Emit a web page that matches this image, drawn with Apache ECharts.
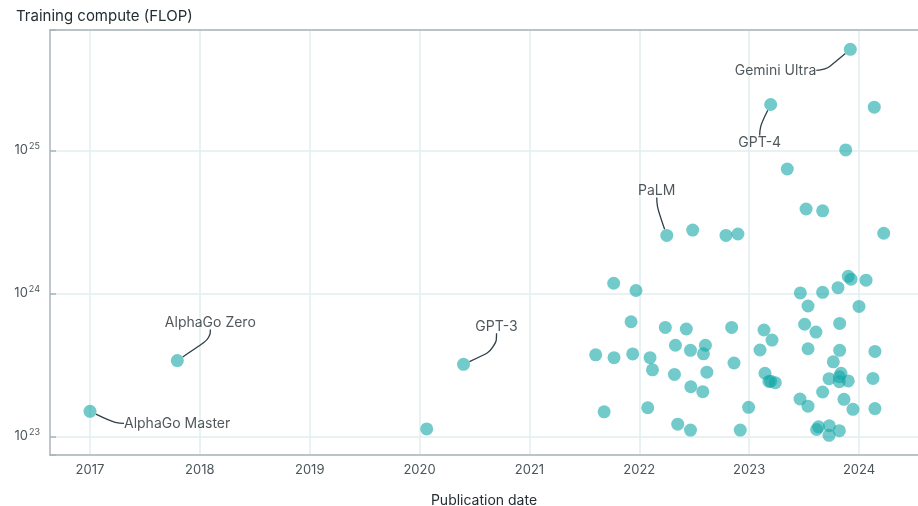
<!DOCTYPE html>
<html>
<head>
  <meta charset="UTF-8">
  <title>Training compute</title>
  <script src="https://cdn.jsdelivr.net/npm/echarts@6/dist/echarts.min.js"></script>
  <style>
    html, body { margin: 0; padding: 0; background: #fff; }
    #main { width: 918px; height: 506px; }
  </style>
</head>
<body>
<div id="main"></div>
<script>
  // named models (labelled on the chart)
  var notableNames = ['AlphaGo Master', 'AlphaGo Zero', 'GPT-3', 'PaLM', 'GPT-4', 'Gemini Ultra'];
  var notableDates = [2017.0, 2017.795, 2020.40, 2022.25, 2023.196, 2023.921];
  var notableCompute = [1.5e23, 3.4e23, 3.2e23, 2.55e24, 2.1e25, 5.1e25];

  // other models, publication date (decimal year) and training FLOP
  var otherDates = [
    2020.065, 2021.767, 2021.970, 2021.925, 2022.237, 2022.428, 2022.841, 2021.603, 2021.770, 2021.940,
    2022.098, 2022.120, 2022.329, 2022.466, 2022.602, 2022.584, 2022.320, 2022.615, 2022.469, 2022.578,
    2022.862, 2021.680, 2022.077, 2022.350, 2022.466, 2022.995, 2022.919, 2022.486, 2022.789, 2022.898,
    2023.347, 2023.518, 2023.669, 2023.879, 2024.139, 2024.225, 2023.902, 2023.927, 2024.064, 2023.466,
    2023.669, 2023.809, 2023.536, 2024.000, 2023.135, 2023.208, 2023.099, 2023.505, 2023.608, 2023.824,
    2023.536, 2023.824, 2024.145, 2023.766, 2023.144, 2023.180, 2023.196, 2023.238, 2023.727, 2023.821,
    2023.836, 2023.821, 2023.902, 2024.127, 2023.669, 2023.463, 2023.536, 2023.863, 2023.945, 2024.145,
    2023.614, 2023.632, 2023.730, 2023.727, 2023.821
  ];
  var otherCompute = [
    1.13e23, 1.18e24, 1.05e24, 6.35e23, 5.8e23, 5.65e23, 5.8e23, 3.73e23, 3.56e23, 3.78e23,
    3.56e23, 2.93e23, 4.35e23, 4.01e23, 4.35e23, 3.79e23, 2.72e23, 2.82e23, 2.23e23, 2.06e23,
    3.27e23, 1.49e23, 1.59e23, 1.22e23, 1.11e23, 1.6e23, 1.11e23, 2.78e24, 2.55e24, 2.61e24,
    7.43e24, 3.9e24, 3.79e24, 1.01e25, 2.01e25, 2.64e24, 1.32e24, 1.26e24, 1.24e24, 1.01e24,
    1.02e24, 1.1e24, 8.18e23, 8.13e23, 5.56e23, 4.73e23, 4.03e23, 6.1e23, 5.38e23, 6.18e23,
    4.11e23, 4.01e23, 3.94e23, 3.33e23, 2.77e23, 2.43e23, 2.44e23, 2.38e23, 2.54e23, 2.62e23,
    2.77e23, 2.42e23, 2.45e23, 2.55e23, 2.05e23, 1.83e23, 1.63e23, 1.82e23, 1.55e23, 1.57e23,
    1.12e23, 1.17e23, 1.19e23, 1.02e23, 1.1e23
  ];

  var yearTicks = [2017, 2018, 2019, 2020, 2021, 2022, 2023, 2024];

  // label placement relative to the dot centre: [dx, dy, align, leader length]
  var labelOffsets = [
    [30, 12, 'left', 9],
    [33, -38, 'center', 9],
    [33, -38, 'center', 16],
    [-10, -45, 'center', 9],
    [-11, 38, 'center', 9],
    [-30, 21, 'right', 9]
  ];

  var dotColor = 'rgba(20,166,166,0.75)';
  var textColor = '#232d32';
  var axisColor = '#aab4b8';
  var gridColor = '#e2eeee';

  var zip = function(xs, ys) {
    var res = [];
    for (var i = 0; i < xs.length; i++) res.push([xs[i], ys[i]]);
    return res;
  };

  var notableData = [];
  for (var i = 0; i < notableNames.length; i++) {
    notableData.push({
      name: notableNames[i],
      value: [notableDates[i], notableCompute[i]],
      labelLine: { length2: labelOffsets[i][3] }
    });
  }

  var option = {
    backgroundColor: '#fff',
    textStyle: { fontFamily: 'Inter' },
    title: {
      text: 'Training compute (FLOP)',
      left: 11,
      top: 4,
      textStyle: { fontFamily: 'Inter', fontSize: 15, fontWeight: 'normal', color: textColor }
    },
    grid: { left: 50, right: 0, top: 30, bottom: 51, outerBoundsMode: 'none', containLabel: false },
    xAxis: [{
      type: 'value',
      min: 2016.636,
      max: 2024.537,
      name: 'Publication date',
      nameLocation: 'middle',
      nameGap: 39,
      nameTextStyle: { fontFamily: 'Inter', fontSize: 14, color: textColor },
      axisLine: { show: true, lineStyle: { color: axisColor, width: 1.5 } },
      axisTick: { show: false, customValues: yearTicks },
      axisLabel: {
        customValues: yearTicks,
        margin: 9,
        fontSize: 13,
        color: '#4a5559',
        formatter: function(v) { return String(Math.round(v)); }
      },
      splitLine: { show: true, lineStyle: { color: gridColor, width: 1.5 } }
    }, {
      type: 'value',
      position: 'top',
      min: 2016.636,
      max: 2024.537,
      axisLine: { show: true, onZero: false, lineStyle: { color: axisColor, width: 1.5 } },
      axisTick: { show: false },
      axisLabel: { show: false },
      splitLine: { show: false }
    }],
    yAxis: {
      type: 'log',
      logBase: 10,
      min: Math.pow(10, 22.871),
      max: Math.pow(10, 25.843),
      axisLine: { show: true, lineStyle: { color: axisColor, width: 1.5 } },
      axisTick: { show: true, inside: true, length: 6, lineStyle: { color: axisColor, width: 1.5 } },
      axisLabel: {
        margin: 10,
        color: '#4a5559',
        formatter: function(v) {
          var e = Math.log10(v);
          if (Math.abs(e - Math.round(e)) > 0.01) return '';
          return '{b|10}{s|' + Math.round(e) + '}';
        },
        rich: {
          b: { fontFamily: 'Inter', fontSize: 13, color: '#4a5559', lineHeight: 14 },
          s: { fontFamily: 'Inter', fontSize: 9, color: '#4a5559', lineHeight: 14, padding: [0, 0, 8, 1] }
        }
      },
      splitLine: { show: true, lineStyle: { color: gridColor, width: 1.5 } }
    },
    series: [{
      name: 'Models',
      type: 'scatter',
      symbolSize: 13,
      itemStyle: { color: dotColor },
      data: zip(otherDates, otherCompute)
    }, {
      name: 'Notable',
      type: 'scatter',
      symbolSize: 13,
      itemStyle: { color: dotColor },
      label: {
        show: true,
        formatter: '{b}',
        fontFamily: 'Inter',
        fontSize: 14,
        color: textColor,
        padding: [3, 4]
      },
      labelLine: {
        show: true,
        length2: 9,
        smooth: 0.5,
        lineStyle: { color: '#2f3e45', width: 1.3 }
      },
      labelLayout: function(p) {
        var o = labelOffsets[p.dataIndex];
        return {
          x: p.rect.x + p.rect.width / 2 + o[0],
          y: p.rect.y + p.rect.height / 2 + o[1],
          align: o[2],
          verticalAlign: 'middle'
        };
      },
      data: notableData
    }]
  };

  echarts.init(document.getElementById('main')).setOption(option);
</script>
</body>
</html>
